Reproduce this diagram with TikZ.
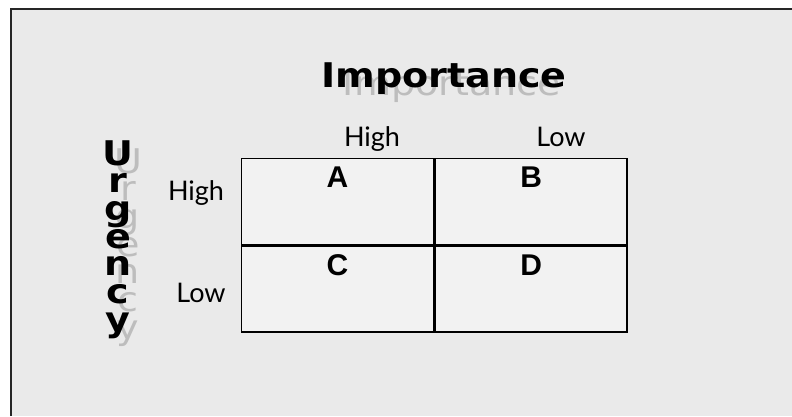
\documentclass[tikz,border=0pt]{standalone}
\usepackage{fontspec}
\setmainfont{Lato}
\newfontfamily\headfont{DejaVu Sans}
\newfontfamily\cellfont{Liberation Sans}
\usetikzlibrary{positioning}
\definecolor{bggray}{HTML}{EAEAEA}
\definecolor{cellgray}{HTML}{F2F2F2}
\definecolor{shadowgray}{HTML}{BDBDBD}
\newcommand{\wide}[1]{\scalebox{1.12}[1]{#1}}

\begin{document}
\begin{tikzpicture}[
  x=1pt,y=-1pt,
  cell/.style={draw,line width=1.6pt,fill=cellgray,minimum width=192pt,minimum height=86pt,inner sep=0pt},
  tag/.style={font=\fontsize{27}{27}\selectfont},
  letter/.style={font=\cellfont\bfseries\fontsize{30}{30}\selectfont},
  head/.style={font=\headfont\bfseries\fontsize{34}{34}\selectfont,inner sep=0pt},
  headshadow/.style={font=\headfont\fontsize{34}{34}\selectfont,text=shadowgray,inner sep=0pt}
    ]
    \useasboundingbox (0,0) rectangle (792,416);
    \fill[white] (0,0) rectangle (792,416);
    \fill[bggray] (11,9) rectangle (792,416);
    \draw[line width=2pt,black!85] (11,416) |- (792,9);

    % titles with shadow
    \node[headshadow,anchor=base] (imps) at (452,95) {\wide{Importance}};
    \node[head,anchor=base] (imp) at (444,87) {\wide{Importance}};
    \foreach \ch [count=\i] in {U,r,g,e,n,c,y}{
      \node[headshadow,anchor=base] (us\i) at (128,173+27.7*\i-27.7) {\wide{\ch}};
      \node[head,anchor=base] (u\i) at (118,165+27.7*\i-27.7) {\wide{\ch}};
    }

    % the grid
    \node[cell] (ca) at (337.5,201.5) {};
    \node[cell,right=0pt of ca] (cb) {};
    \node[cell,below=0pt of ca] (cc) {};
    \node[cell,right=0pt of cc] (cd) {};
    \node[letter,below=6pt of ca.north] (la) {A};
    \node[letter,below=6pt of cb.north] (lb) {B};
    \node[letter,below=6pt of cc.north] (lc) {C};
    \node[letter,below=6pt of cd.north] (ld) {D};

    % axis values
    \node[tag,anchor=base] (colhigh) at (372,146) {High};
    \node[tag,anchor=base] (collow) at (561,146) {Low};
    \node[tag,anchor=base] (rowhigh) at (196,200) {High};
    \node[tag,anchor=base] (rowlow) at (201,302) {Low};
\end{tikzpicture}
\end{document}
